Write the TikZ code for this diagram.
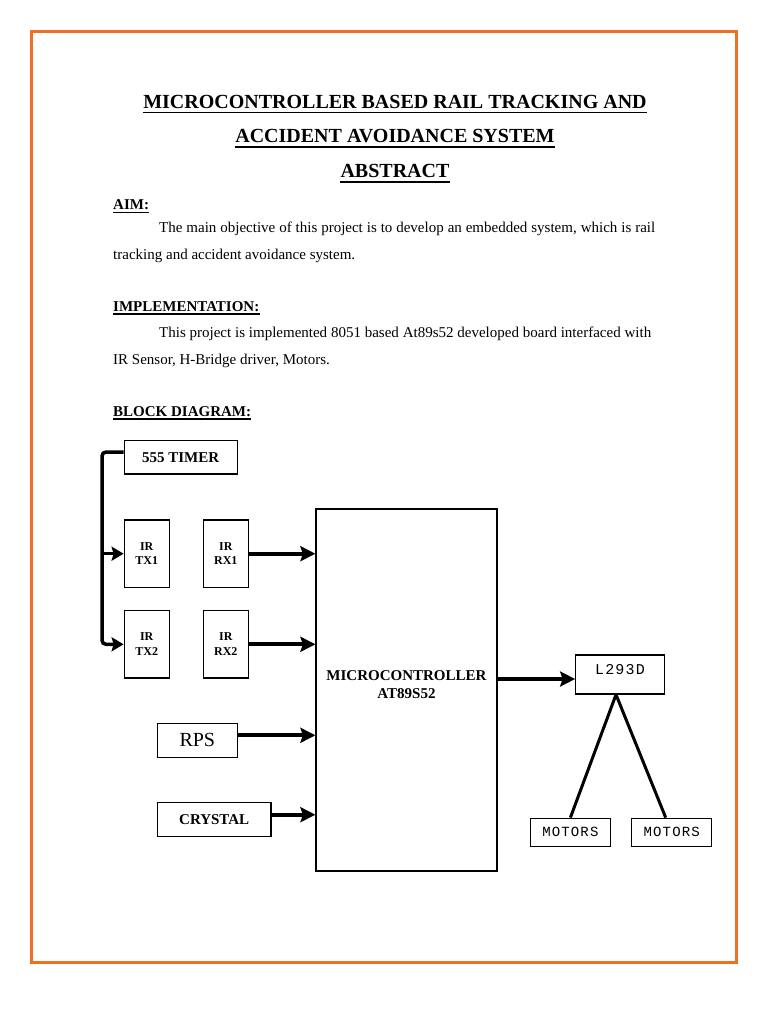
\documentclass[tikz,border=0pt]{standalone}
\usepackage{fontspec}
\setmainfont{Liberation Serif}
\newfontfamily\monof[LetterSpace=8]{Liberation Mono}
\usetikzlibrary{arrows.meta}
\definecolor{frameorange}{RGB}{240,112,34}
\begin{document}
\begin{tikzpicture}[x=1pt,y=-1pt,
  titletext/.style={font=\bfseries\fontsize{20}{24}\selectfont,inner sep=0pt,anchor=base},
  headtext/.style={font=\bfseries\fontsize{15}{18}\selectfont,inner sep=0pt,anchor=base west},
  bodytext/.style={font=\fontsize{15}{18}\selectfont,inner sep=0pt,anchor=base west},
  tuline/.style={line width=1.8pt},
  huline/.style={line width=1.4pt},
  box/.style={draw=black,line width=1.2pt,inner sep=0pt,align=center,
              font=\bfseries\fontsize{15}{18}\selectfont},
  irbox/.style={box,minimum width=45pt,minimum height=67.5pt,
              font=\bfseries\fontsize{12}{14.5}\selectfont},
  monobox/.style={draw=black,line width=1.2pt,inner sep=0pt,align=center},
  arr/.style={line width=4pt,-{Stealth[length=15pt,width=15pt,inset=2.5pt]}},
  busarr/.style={line width=3.5pt,-{Stealth[length=12pt,width=14pt,inset=2pt]}},
  bus/.style={line width=3.5pt},
  leg/.style={line width=3pt}]
\useasboundingbox (0,0) rectangle (768,1024);
\fill[white] (0,0) rectangle (768,1024);
\draw[frameorange,line width=3pt] (31.5,31.5) rectangle (736,962);

% title
\node[titletext] (t1) at (395,108.5) {MICROCONTROLLER BASED RAIL TRACKING AND};
\node[titletext] (t2) at (395,143) {ACCIDENT AVOIDANCE SYSTEM};
\node[titletext] (t3) at (395,178) {ABSTRACT};
\foreach \n in {t1,t2,t3}
  \draw[tuline] ([yshift=-4pt]\n.base west) -- ([yshift=-4pt]\n.base east);

% AIM
\node[headtext] (aim) at (113,210) {AIM:};
\node[bodytext] (p1a) at (159,233) {\hbox to 496pt{The main objective of this project is to develop an embedded system, which is rail}};
\node[bodytext] (p1b) at (113,259.5) {tracking and accident avoidance system.};

% IMPLEMENTATION
\node[headtext] (impl) at (113,311.5) {IMPLEMENTATION:};
\node[bodytext] (p2a) at (159,337) {\hbox to 492pt{This project is implemented 8051 based At89s52 developed board interfaced with}};
\node[bodytext] (p2b) at (113,364) {IR Sensor, H-Bridge driver, Motors.};

% BLOCK DIAGRAM
\node[headtext] (blk) at (113,416.5) {BLOCK DIAGRAM:};
\foreach \n in {aim,impl,blk}
  \draw[huline] ([yshift=-2.5pt]\n.base west) -- ([yshift=-2.5pt]\n.base east);

% blocks
\node[box,minimum width=113pt,minimum height=33.5pt] (timer) at (180.7,457.3) {555 TIMER};
\node[irbox] (tx1) at (146.7,553.7) {IR\\TX1};
\node[irbox] (rx1) at (225.8,553.7) {IR\\RX1};
\node[irbox] (tx2) at (146.7,644.3) {IR\\TX2};
\node[irbox] (rx2) at (225.8,644.3) {IR\\RX2};
\node[box,minimum width=181pt,minimum height=362pt] (mcu) at (406.5,690) {};
\node[inner sep=0pt,align=center,font=\bfseries\fontsize{15}{18}\selectfont] (mcut) at (406.5,685) {MICROCONTROLLER\\AT89S52};
\node[box,minimum width=80pt,minimum height=34pt,font=\fontsize{20}{24}\selectfont] (rps) at (197.3,740.3) {RPS};
\node[box,minimum width=113.5pt,minimum height=34pt] (crystal) at (214.2,819.7) {CRYSTAL};
\node[monobox,minimum width=88.5pt,minimum height=39pt,font=\monof\fontsize{15}{18}\selectfont,text depth=10pt] (l293) at (620,674.5) {L293D};
\node[monobox,minimum width=79.5pt,minimum height=28pt,font=\monof\fontsize{14}{16}\selectfont] (mot1) at (570.4,832.2) {MOTORS};
\node[monobox,minimum width=80pt,minimum height=28pt,font=\monof\fontsize{14}{16}\selectfont] (mot2) at (671.7,832.2) {MOTORS};

% 555 timer bus
\coordinate (tl) at (102,452);
\draw[busarr,rounded corners=4pt] (timer.west |- tl) -- (tl) |- (tx2.west);
\draw[busarr] (tl |- tx1.west) -- (tx1.west);

% inputs to microcontroller
\draw[arr] (rx1.east) -- (rx1.east -| mcu.west);
\draw[arr] (rx2.east) -- (rx2.east -| mcu.west);
\coordinate (rpsout) at ([yshift=5pt]rps.east);
\draw[arr] (rpsout) -- (rpsout -| mcu.west);
\coordinate (crout) at ([yshift=5pt]crystal.east);
\draw[arr] (crout) -- (crout -| mcu.west);

% output
\coordinate (mout) at (497,679);
\draw[arr] (mout) -- (mout -| l293.west);

% motors
\coordinate (apex) at ([xshift=-4pt]l293.south);
\draw[leg] (apex) -- (mot1.north);
\draw[leg] (apex) -- ([xshift=-6pt]mot2.north);
\end{tikzpicture}
\end{document}
